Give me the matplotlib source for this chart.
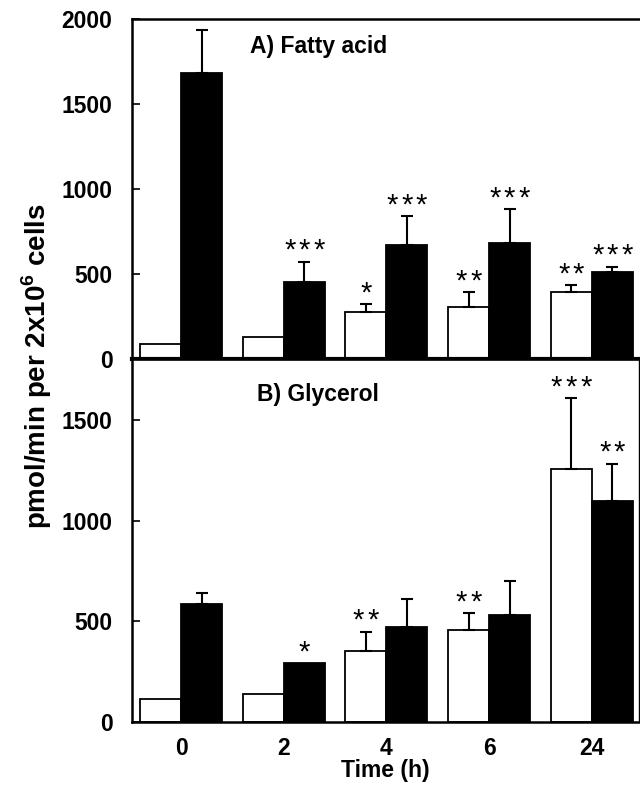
import matplotlib
matplotlib.use("Agg")
import matplotlib.pyplot as plt
import numpy as np

plt.rcParams['font.family'] = ['Liberation Sans', 'DejaVu Sans']
plt.rcParams['mathtext.fontset'] = 'custom'
plt.rcParams['mathtext.bf'] = 'Liberation Sans:bold'
plt.rcParams['mathtext.rm'] = 'Liberation Sans:bold'

groups = ['0', '2', '4', '6', '24']

# Panel A: Fatty acid
fa_white = [88, 130, 276, 306, 394]
fa_white_err = [0, 0, 47, 88, 41]
fa_black = [1680, 453, 671, 683, 512]
fa_black_err = [255, 119, 170, 199, 31]
fa_white_sig = [0, 0, 1, 2, 2]
fa_black_sig = [0, 3, 3, 3, 3]

# Panel B: Glycerol
gl_white = [113, 140, 355, 457, 1260]
gl_white_err = [0, 0, 95, 83, 350]
gl_black = [589, 293, 470, 532, 1097]
gl_black_err = [50, 0, 140, 168, 188]
gl_white_sig = [0, 0, 2, 2, 3]
gl_black_sig = [0, 1, 0, 0, 2]

FS = 16.5

fig = plt.figure(figsize=(6.4, 7.86), dpi=100)
axA = fig.add_axes([132/640, 1-359/786, (639-132)/640, (359-19)/786])
axB = fig.add_axes([132/640, 1-722/786, (639-132)/640, (722-360)/786])

x = np.arange(len(groups))
w = 0.40

def draw(ax, wv, we, bv, be, wsig, bsig, ymax, yticks, title, ty):
    ax.bar(x - w/2, wv, w, color='white', edgecolor='black', linewidth=1.3, zorder=2)
    ax.bar(x + w/2, bv, w, color='black', edgecolor='black', linewidth=1.3, zorder=2)
    for xs, vals, errs in ((x - w/2, wv, we), (x + w/2, bv, be)):
        for xi, v, e in zip(xs, vals, errs):
            if e > 0:
                ax.errorbar([xi], [v], yerr=[[0], [e]], fmt='none', ecolor='black',
                            elinewidth=1.5, capsize=4.3, capthick=1.5, zorder=3)
    for xs, vals, errs, sigs in ((x - w/2, wv, we, wsig), (x + w/2, bv, be, bsig)):
        for xi, v, e, n in zip(xs, vals, errs, sigs):
            for k in range(n):
                dx = (k - (n - 1) / 2) * 10.5
                ax.annotate('*', (xi, v + e), xytext=(dx, 2), textcoords='offset points',
                            ha='center', va='baseline', fontsize=21, fontweight='normal')
    ax.set_xlim(-0.478, 4.46)
    ax.set_ylim(0, ymax)
    ax.set_yticks(yticks)
    ax.set_yticklabels([str(t) for t in yticks], fontsize=FS, fontweight='bold')
    ax.tick_params(axis='y', direction='in', length=6, width=1.2, pad=14)
    ax.text(0.367, ty, title, transform=ax.transAxes, ha='center', va='center',
            fontsize=FS, fontweight='bold')
    for s in ('left', 'bottom', 'top'):
        ax.spines[s].set_linewidth(1.8)

draw(axA, fa_white, fa_white_err, fa_black, fa_black_err, fa_white_sig, fa_black_sig,
     2000, [0, 500, 1000, 1500, 2000], 'A) Fatty acid', 0.92)
draw(axB, gl_white, gl_white_err, gl_black, gl_black_err, gl_white_sig, gl_black_sig,
     1800, [0, 500, 1000, 1500], 'B) Glycerol', 0.906)

axA.spines['right'].set_visible(False)
axA.spines['bottom'].set_linewidth(3)
axA.set_xticks([])
axB.spines['right'].set_linewidth(1.0)
axB.spines['top'].set_linewidth(1.2)
axB.set_xticks(x)
axB.set_xticklabels(groups, fontsize=FS, fontweight='bold')
axB.tick_params(axis='x', length=0, pad=11)
axB.set_xlabel('Time (h)', fontsize=FS, fontweight='bold', labelpad=-1)

fig.text(37/640, 1-366/786, r'pmol/min per 2x10$^{\mathbf{6}}$ cells', rotation=90,
         ha='center', va='center', fontsize=20, fontweight='bold')

fig.savefig('out.png', dpi=100)
